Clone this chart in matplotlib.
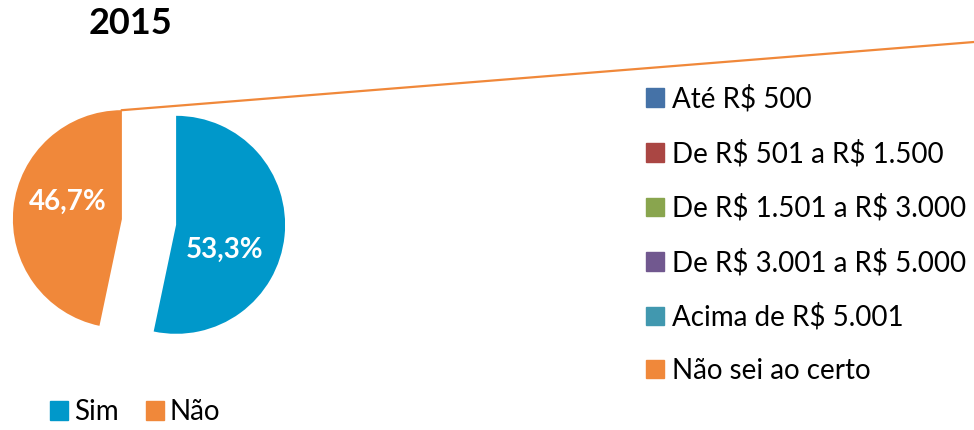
import matplotlib.pyplot as plt
from matplotlib.patches import Patch
from matplotlib.lines import Line2D
import numpy as np

plt.rcParams['font.family'] = ['Lato', 'DejaVu Sans']
plt.rcParams['text.parse_math'] = False

# dados
title = '2015'
labels = ['Sim', 'Não']
values = [53.3, 46.7]
colors = ['#0098CA', '#F0883A']

faixas = ['Até R$ 500', 'De R$ 501 a R$ 1.500', 'De R$ 1.501 a R$ 3.000',
          'De R$ 3.001 a R$ 5.000', 'Acima de R$ 5.001', 'Não sei ao certo']
faixa_colors = ['#4572A7', '#AA4643', '#89A54E', '#71588F', '#4198AF', '#F0883A']

W, H = 974, 430
fig = plt.figure(figsize=(W / 100, H / 100), dpi=100)

# pie axes: radius 1 = 109 px, centre at pixel (149, 222)
r_px = 109
cx, cy = 149, H - 222
ax = fig.add_axes([0, (cy - 150) / H, 300 / W, 300 / H])

wedges, _ = ax.pie(values, colors=colors, startangle=90, counterclock=False,
                   explode=[0.25, 0.25], radius=1,
                   wedgeprops=dict(linewidth=0))
ax.set_xlim(-cx / r_px, (300 - cx) / r_px)
ax.set_ylim(-150 / r_px, 150 / r_px)
ax.axis('off')

# rótulos de porcentagem
offsets = [(-27, 0.5), (162, 0.52)]
for w, v, (ang, d) in zip(wedges, values, offsets):
    c = w.center
    a = np.deg2rad(ang)
    ax.text(c[0] + d * np.cos(a), c[1] + d * np.sin(a),
            f'{v:.1f}%'.replace('.', ','), color='white', fontsize=20,
            fontweight='bold', ha='center', va='center')

# linha de ligação a partir do topo da fatia "Não"
nc = wedges[1].center
p0 = fig.transFigure.inverted().transform(ax.transData.transform((nc[0], nc[1] + 1)))
fig.add_artist(Line2D([p0[0], 1.0], [p0[1], 1 - 42 / H], color='#F0883A',
                      linewidth=1.6, transform=fig.transFigure))

fig.text(130 / W, 1 - 24 / H, title, fontsize=26, fontweight='bold',
         ha='center', va='center')

# legenda das faixas
h1 = [Patch(color=c) for c in faixa_colors]
fig.legend(h1, faixas, loc='upper left', bbox_to_anchor=(646 / W, 1 - 85 / H),
           frameon=False, fontsize=20, handlelength=0.65, handleheight=0.65,
           handletextpad=0.28, labelspacing=0.975, borderpad=0, borderaxespad=0)

# legenda Sim / Não
h2 = [Patch(color=c) for c in colors]
fig.legend(h2, labels, loc='upper left', bbox_to_anchor=(50 / W, 1 - 399 / H),
           frameon=False, fontsize=20, ncol=2, handlelength=0.65,
           handleheight=0.65, handletextpad=0.2, columnspacing=1.0,
           borderpad=0, borderaxespad=0)

fig.savefig('out.png', dpi=100)
